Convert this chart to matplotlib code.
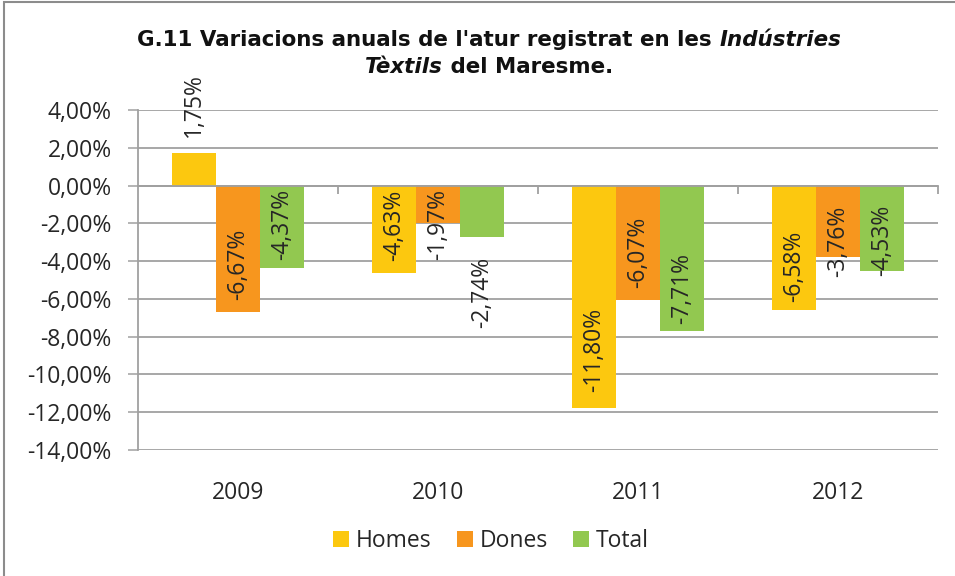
import matplotlib
matplotlib.use("Agg")
import matplotlib.pyplot as plt
from matplotlib.patches import Rectangle
import numpy as np

# ---- data ----
years = ["2009", "2010", "2011", "2012"]
series_names = ["Homes", "Dones", "Total"]
homes = [1.75, -4.63, -11.80, -6.58]
dones = [-6.67, -1.97, -6.07, -3.76]
total = [-4.37, -2.74, -7.71, -4.53]
yticks = [4, 2, 0, -2, -4, -6, -8, -10, -12, -14]

# ---- style / layout ----
colors = ["#FCC80F", "#F7961E", "#92C850"]
# label bottom offset from bar end, in pixels (layout only)
label_offsets = [[16, 12, 16, 8], [12, -37, 12, -20], [8, -91, 7, -5]]
grid_col = "#A0A0A0"
txt_col = "#262626"
FONT = "Open Sans"
fs = 16.5

W, H, DPI = 9.55, 5.76, 100
fig = plt.figure(figsize=(W, H), dpi=DPI)
ax = fig.add_axes([138/955, 1-450/576, 800/955, 340/576])

x = np.arange(len(years))
bw = 0.22
all_series = [homes, dones, total]
for i, (vals, col, name) in enumerate(zip(all_series, colors, series_names)):
    xs = x + (i - 1) * bw
    ax.bar(xs, vals, width=bw, color=col, label=name, zorder=3)
    for j, (xx, v) in enumerate(zip(xs, vals)):
        lab = f"{v:.2f}%".replace(".", ",")
        ax.annotate(lab, xy=(xx, v), xytext=(0, label_offsets[i][j]),
                    textcoords="offset pixels", rotation=90,
                    ha="center", va="bottom", fontsize=fs, family=FONT,
                    color=txt_col, zorder=5)

ax.set_xlim(-0.5, 3.5)
ax.set_ylim(-14, 4)
ax.set_yticks(yticks)
ax.set_yticklabels([f"{t:.2f}%".replace(".", ",") for t in yticks],
                   family=FONT, fontsize=fs, color=txt_col)
ax.yaxis.grid(True, color=grid_col, linewidth=1.3, zorder=0)
ax.tick_params(axis="y", direction="out", length=7, width=1.1, color=grid_col, pad=12)

for s in ["top", "right"]:
    ax.spines[s].set_visible(False)
ax.spines["left"].set_color(grid_col)
ax.spines["left"].set_linewidth(1.3)
ax.spines["bottom"].set_position(("data", 0))
ax.spines["bottom"].set_color(grid_col)
ax.spines["bottom"].set_linewidth(1.3)
ax.spines["bottom"].set_zorder(4)
ax.set_xticks(np.arange(0.5, 4.0, 1.0))
ax.set_xticklabels([])
ax.tick_params(axis="x", direction="out", length=6, width=1.3, color=grid_col)

sec = ax.secondary_xaxis("bottom")
sec.set_xticks(x)
sec.set_xticklabels(years, family=FONT, fontsize=fs, color=txt_col)
sec.tick_params(length=0, pad=22)
sec.spines["bottom"].set_visible(False)

leg = fig.legend(loc="center", bbox_to_anchor=(0.514, 1-541/576), ncol=3,
                 frameon=False, prop={"family": FONT, "size": fs},
                 handlelength=0.7, handleheight=0.7, handletextpad=0.3,
                 columnspacing=1.1)
for t in leg.get_texts():
    t.set_color(txt_col)

# border
fig.patches.append(Rectangle((4/955, -0.05), 1.2, 1.05 - 2/576,
                             transform=fig.transFigure, fill=False,
                             edgecolor="#8C8C8C", linewidth=1.5))

# ---- title with mixed bold / bold italic ----
tfs = 15.4
renderer = fig.canvas.get_renderer()
def line(parts, ycenter_px):
    objs = []
    for txt, style in parts:
        t = fig.text(0, 0, txt, fontsize=tfs, fontweight="bold", fontstyle=style,
                     family="DejaVu Sans", color="#111111", va="center", ha="left",
                     transform=None)
        objs.append(t)
    widths = [o.get_window_extent(renderer).width for o in objs]
    total_w = sum(widths)
    x0 = 489 - total_w / 2
    y = (576 - ycenter_px)
    for o, w in zip(objs, widths):
        o.set_position((x0, y))
        x0 += w

line([("G.11 Variacions anuals de l'atur registrat en les ", "normal"),
      ("Indústries", "italic")], 40)
line([("Tèxtils", "italic"), (" del Maresme.", "normal")], 67)

fig.savefig("out.png", dpi=DPI)
